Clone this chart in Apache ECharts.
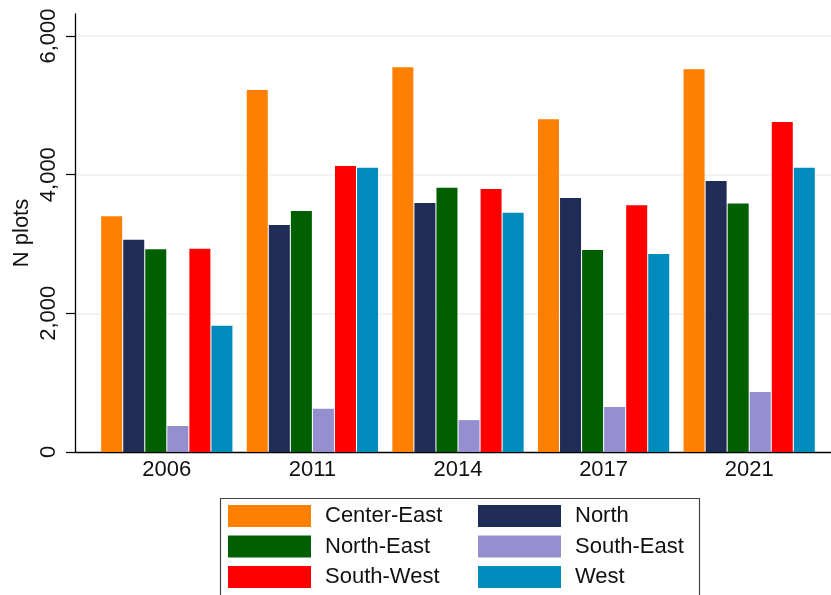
<!DOCTYPE html>
<html>
<head>
<meta charset="utf-8">
<script src="https://cdn.jsdelivr.net/npm/echarts@6/dist/echarts.min.js"></script>
<style>
html,body{margin:0;padding:0;background:#fff;}
#chart{width:831px;height:595px;}
</style>
</head>
<body>
<div id="chart"></div>
<script>
var categories = ['2006', '2011', '2014', '2017', '2021'];
var seriesNames = ['Center-East', 'North', 'North-East', 'South-East', 'South-West', 'West'];
var centerEast = [3400, 5220, 5550, 4800, 5520];
var north      = [3060, 3275, 3590, 3665, 3910];
var northEast  = [2925, 3475, 3810, 2915, 3585];
var southEast  = [375, 625, 460, 650, 865];
var southWest  = [2930, 4125, 3795, 3560, 4760];
var west       = [1820, 4100, 3450, 2855, 4100];
var yTicks = [0, 2000, 4000, 6000];

var seriesData = [centerEast, north, northEast, southEast, southWest, west];
var colors = ['#ff7f00', '#1f2d56', '#005f00', '#958fd0', '#ff0000', '#008bbd'];
var FONT = 'Liberation Sans, Arial, sans-serif';

var chart = echarts.init(document.getElementById('chart'), null, {renderer: 'canvas'});

var series = seriesNames.map(function (n, i) {
  return {
    name: n, type: 'bar', xAxisIndex: 2, yAxisIndex: 2,
    data: seriesData[i], barWidth: 21, barGap: '5%',
    itemStyle: {color: colors[i]}, animation: false
  };
});

var option = {
  animation: false,
  backgroundColor: '#fff',
  color: colors,
  grid: [
    {left: 75, right: 0, top: 14, bottom: 143},
    {left: 75, right: 0, top: 36, bottom: 143},
    {left: 94, right: 9, top: 36, bottom: 143}
  ],
  xAxis: [
    {gridIndex: 0, type: 'category', data: categories, axisLine: {show: true, lineStyle: {color: '#000', width: 1.3}},
     axisTick: {show: false}, axisLabel: {show: false}, splitLine: {show: false}},
    {gridIndex: 1, type: 'category', data: categories, show: false},
    {gridIndex: 2, type: 'category', data: categories, axisLine: {show: false}, axisTick: {show: false},
     axisLabel: {color: '#111', fontSize: 22, fontFamily: FONT, margin: 7}, splitLine: {show: false}}
  ],
  yAxis: [
    {gridIndex: 0, type: 'value', min: 0, max: 6316, axisLine: {show: true, lineStyle: {color: '#000', width: 1.3}},
     axisTick: {show: false}, axisLabel: {show: false}, splitLine: {show: false},
     name: 'N plots', nameLocation: 'middle', nameRotate: 90, nameGap: 42, nameMoveOverlap: false,
     nameTextStyle: {fontSize: 22, fontFamily: FONT, color: '#111'}},
    {gridIndex: 1, type: 'value', min: yTicks[0], max: yTicks[yTicks.length - 1], interval: 2000,
     axisLine: {show: false},
     axisTick: {show: true, length: 9, lineStyle: {color: '#000', width: 1.2}},
     axisLabel: {rotate: 90, fontSize: 22, fontFamily: FONT, color: '#111', margin: 15,
       formatter: function (v) { return v.toLocaleString('en-US'); }},
     splitLine: {show: true, showMinLine: false, lineStyle: {color: '#eaf0f3', width: 1.5}}},
    {gridIndex: 2, type: 'value', min: 0, max: 6000, show: false}
  ],
  legend: [
    {data: ['Center-East', 'North-East', 'South-West'], orient: 'vertical', left: 228, top: 505,
     padding: 0, itemWidth: 83, itemHeight: 22, itemGap: 8.5, icon: 'rect', selectedMode: false,
     textStyle: {fontSize: 22, fontFamily: FONT, color: '#111', padding: [0, 0, 0, 9], lineHeight: 22}},
    {data: ['North', 'South-East', 'West'], orient: 'vertical', left: 478, top: 505,
     padding: 0, itemWidth: 83, itemHeight: 22, itemGap: 8.5, icon: 'rect', selectedMode: false,
     textStyle: {fontSize: 22, fontFamily: FONT, color: '#111', padding: [0, 0, 0, 9], lineHeight: 22}}
  ],
  graphic: [
    {type: 'rect', left: 218, top: 496, shape: {width: 479, height: 120},
     style: {fill: 'none', stroke: '#444', lineWidth: 1.2}, z: 0}
  ],
  series: series
};
chart.setOption(option);
</script>
</body>
</html>
